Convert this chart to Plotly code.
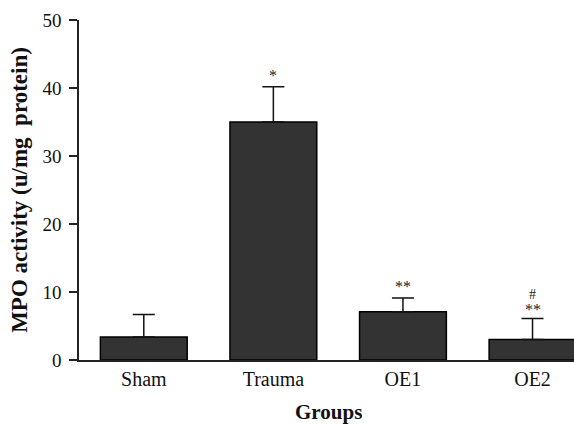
import plotly.graph_objects as go

groups = ["Sham", "Trauma", "OE1", "OE2"]
mpo_mean = [3.4, 35.0, 7.1, 3.0]
mpo_sem = [3.3, 5.2, 2.0, 3.1]
sig_vs_trauma = ["", "*", "**", "**"]
sig_vs_oe1 = ["", "", "", "#"]

FONT = "Liberation Serif, Times New Roman, serif"

fig = go.Figure()
fig.add_trace(go.Bar(
    x=groups, y=mpo_mean,
    width=0.67,
    marker=dict(color="#333333", line=dict(color="#000000", width=1.5)),
    error_y=dict(type="data", array=mpo_sem, arrayminus=[0]*4, symmetric=False,
                 color="#111111", thickness=1.5, width=11),
    showlegend=False,
))

for g, m, s, lab1, lab2 in zip(groups, mpo_mean, mpo_sem, sig_vs_trauma, sig_vs_oe1):
    if lab1:
        fig.add_annotation(x=g, y=m + s, text=lab1, showarrow=False,
                           yanchor="bottom", yshift=(-1 if lab2 else 1),
                           font=dict(family=FONT, size=16, color="#222222"))
    if lab2:
        fig.add_annotation(x=g, y=m + s, text=lab2, showarrow=False,
                           yanchor="bottom", yshift=15,
                           font=dict(family=FONT, size=14, color="#222222"))

# x-axis title
fig.add_annotation(xref="paper", yref="paper", x=0.505, y=-0.153,
                   text="<b>Groups</b>", showarrow=False, yanchor="middle",
                   font=dict(family=FONT, size=21, color="#111111"))

fig.update_layout(
    width=574, height=425,
    margin=dict(l=79, r=0, t=20, b=65),
    paper_bgcolor="white", plot_bgcolor="white",
    font=dict(family=FONT, size=19, color="#111111"),
)
fig.update_xaxes(
    range=[-0.5, 3.32], showline=True, linecolor="#222222", linewidth=1.5,
    ticks="", showgrid=False, zeroline=False,
    tickfont=dict(family=FONT, size=20),
)
fig.update_yaxes(
    range=[0, 50], tickvals=[0, 10, 20, 30, 40, 50],
    showline=True, linecolor="#222222", linewidth=1.5,
    ticks="outside", ticklen=8, tickwidth=1.5, tickcolor="#222222",
    showgrid=False, zeroline=False, ticklabelstandoff=4,
    title=dict(text="<b>MPO activity (u/mg  protein)</b>", font=dict(family=FONT, size=23), standoff=8),
    tickfont=dict(family=FONT, size=19),
)

fig.write_html("out.html", post_script="document.body.style.margin='0';",
               config={"displayModeBar": False})
